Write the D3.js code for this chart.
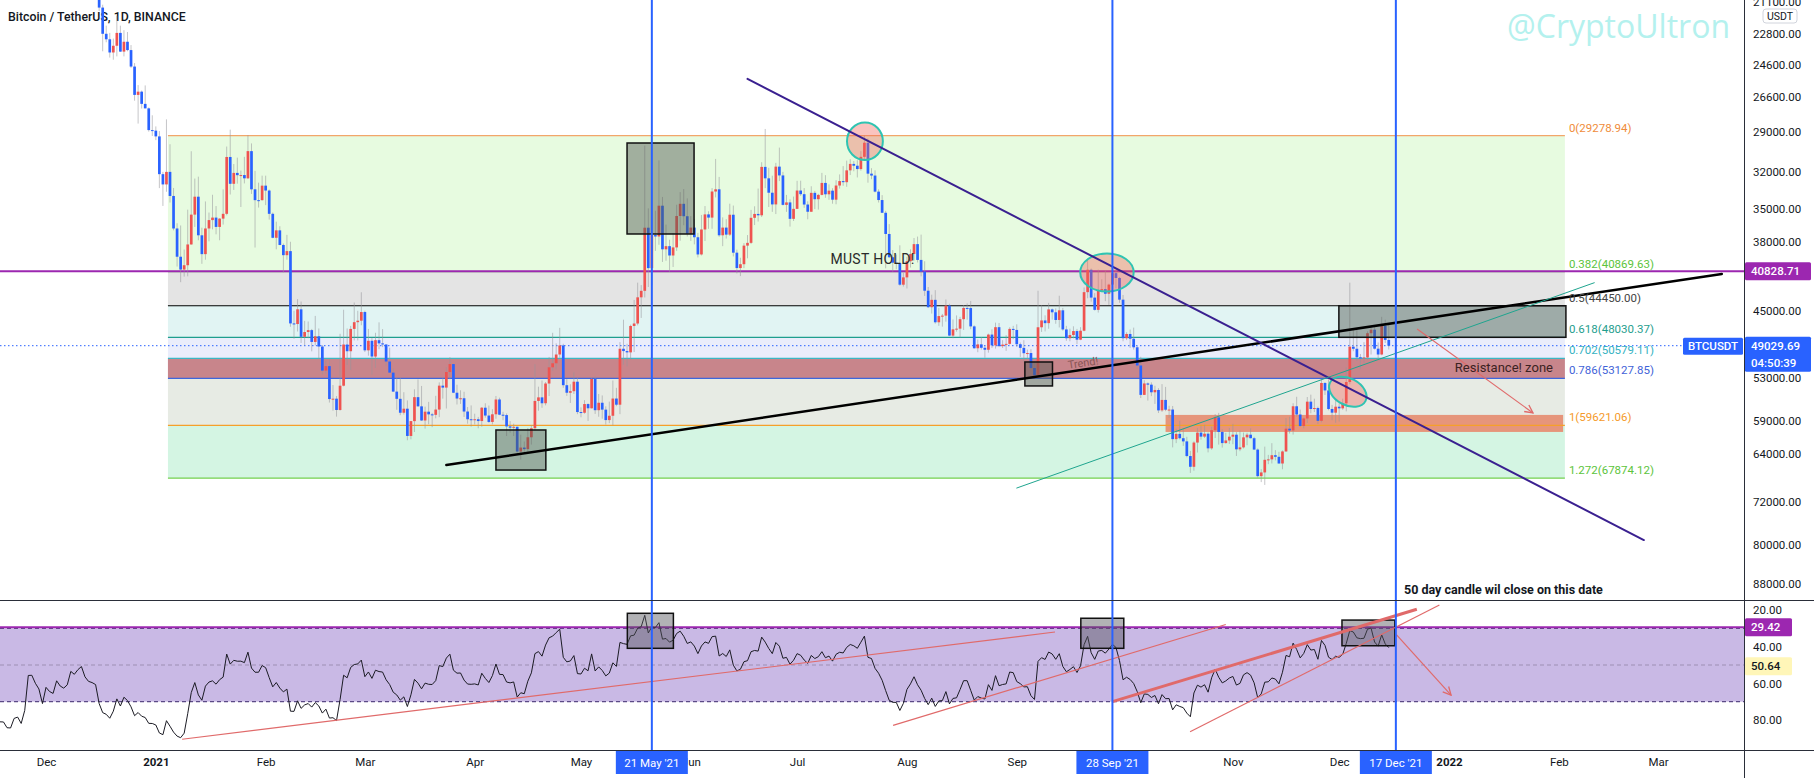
<!DOCTYPE html>
<html><head><meta charset="utf-8">
<script src="https://cdn.jsdelivr.net/npm/d3@7/dist/d3.min.js"></script>
<style>html,body{margin:0;padding:0;background:#fff;overflow:hidden}svg{display:block}</style>
</head><body>
<svg id="chart" width="1814" height="778"></svg>
<script>
// ================= DATA =================
const candleStart = '2020-11-01';
// October 2020 daily closes (only used to warm up the RSI)
const warmupCloses = [10620,10570,10550,10670,10790,10600,10670,10920,11060,11300,11380,11540,11430,11430,11500,11320,11360,11500,11750,11920,12820,12990,12930,13130,13030,13070,13640,13280,13460,13560,13800];

const closes = [
13760,13550,14020,14150,15590,15580,14830,15480,15330,15300,15700,16280,16320,16070,15960,16720,17660,17800,17820,18660,18700,18410,18370,19150,18720,17150,17140,17720,18180,19700,
18770,19210,19420,18650,19150,19360,19170,18320,18550,18250,18040,18800,19170,19270,19430,21380,22800,23110,23870,23480,22750,23820,23250,23730,24710,26490,26280,27080,27380,28880,28920,
29330,32180,33000,32000,33950,36770,39410,40670,40240,38240,35540,34010,37390,39160,36770,36020,35800,36630,35890,35470,30850,32950,32080,32260,32250,32510,30410,33400,34300,34300,33100,
33500,35470,37620,36940,38290,39260,38870,46420,46490,44840,47970,47410,47190,48580,47910,49130,52120,51550,55890,55840,57410,54090,48890,49700,47050,46280,46110,45140,
49590,48440,50350,48370,48750,48880,50970,52380,54880,55860,57800,57230,61190,59000,55630,56900,58910,57650,58030,58100,57350,54080,54340,52300,51290,55030,55820,55780,57630,58730,58800,
58730,58990,57090,58200,59120,58020,55950,58080,58130,59770,59960,59830,63580,62960,63200,61390,60040,56150,55660,56470,53800,51700,51190,50100,49000,54020,55030,54820,53560,57700,
57800,56580,57170,53200,57440,56400,57360,58850,58230,55820,56670,49400,49680,49840,46710,46430,43540,42850,36700,40530,37370,37500,34770,38700,38400,39290,38520,35660,34610,35680,37250,
36690,37570,39190,36860,35520,35800,33580,33400,37390,36690,37330,35550,39020,40520,40140,38350,38090,35820,35480,35600,31610,32510,33680,34660,31590,32280,34700,34490,35910,35040,
33500,33800,34670,35290,33690,34220,33860,32880,33810,33510,34260,33090,32730,32820,31880,31380,31520,31780,30840,29790,32140,32290,33590,34290,35380,37270,39460,39990,40020,42210,41460,
39850,39150,38210,39720,40870,42840,44610,43810,46290,45590,45540,44430,47830,47100,47020,45940,44690,44700,46760,49340,48870,49280,49520,47710,48990,46850,49080,48900,48810,47050,47170,
48850,49290,49940,49920,51790,52700,46860,46080,46390,44850,45170,46030,44950,47110,48140,47760,47300,48310,47260,42990,40690,43570,44900,42810,42670,43160,42200,41030,41520,43790,
48140,47640,48200,49220,51470,55320,53790,53950,54970,54660,57470,56010,57370,57350,61670,60880,61530,62010,64280,66000,62190,60690,61290,60850,63080,60330,58460,60590,62270,61870,61300,
61000,63230,62930,61400,61000,61530,63270,67530,66920,64880,64810,64150,64400,65470,63560,60110,60370,56890,58050,59710,58620,56250,57270,57130,58960,53730,54720,57270,57790,56950,
57180,56480,53600,49150,49400,50440,50580,50470,47550,47140,49390,50100,46700,48340,49029.69];

const highs = [
13900,13830,14070,14250,15770,15970,15770,15650,15850,15480,15960,16350,16480,16330,16140,16880,17860,18480,18180,18800,18970,18750,18770,19420,19490,18910,17460,17880,18340,19860,
19890,19310,19530,19500,19170,19420,19400,19280,18640,18560,18290,18950,19410,19350,19570,21560,23800,23280,24170,24300,24100,23840,24100,23800,24790,26870,28420,27390,27380,28990,29300,
29600,33300,34790,33600,34500,36940,40370,41950,41380,41350,38260,36630,37850,40100,39700,37950,36850,37300,37850,36420,35600,33830,33450,32940,34880,32920,32560,33780,38530,34930,34340,
34720,35980,37660,38700,38310,40950,39700,46800,48200,47350,48700,48980,48150,49710,49000,50650,52620,52530,56370,57500,58350,57500,54180,51400,52050,48400,48400,46630,
49800,50250,52640,51770,49450,49200,51450,52400,54900,57390,58150,58060,61840,61700,60600,56940,58980,60100,59450,59880,58600,58430,55830,57200,53230,55080,56640,56560,58400,59370,59800,
59490,60050,59800,58500,59250,59480,58650,58150,58870,61200,60700,61200,63770,64850,63800,63600,62500,60400,57520,57100,56760,55480,52130,51950,50500,54360,55460,56430,55200,58000,
58450,57950,58970,57200,57970,58370,58650,59500,59300,59590,56880,58000,51360,51580,50700,49800,46640,45800,43550,42450,42200,38850,38270,39920,39800,40900,40410,38850,37890,36480,37500,
37900,38230,39480,39290,37920,36800,36800,34070,37530,38400,37690,37450,39380,41060,41330,40530,39560,38200,36460,36150,35750,33300,34880,35300,35490,32730,34750,35300,36600,36100,
35040,33940,34950,35950,35290,35060,35100,33900,34100,34270,34600,34650,33340,33110,33190,32250,31950,32440,31900,31040,32860,32580,33650,34500,35400,40550,39540,40900,40640,42320,42410,
42600,40470,39780,39970,41350,43390,44700,45310,46450,46700,46790,46220,47890,48140,47370,48050,47170,46000,47080,49380,49820,49500,50500,49870,49300,49380,49200,49310,49650,48900,48250,
49150,50400,51050,50560,51900,52780,52920,47400,47340,47030,45990,46460,46880,47260,48450,48500,48160,48830,48370,47330,43640,44000,44980,45200,42970,43950,44350,42790,42600,44130,
48500,48360,49300,49500,51890,55750,55330,56100,55490,56560,57840,57680,57580,58530,62930,62280,61720,62700,64490,67000,66640,63730,61750,61500,63710,63290,61500,62500,62960,62350,62400,
62440,64270,63520,63100,62600,61560,63290,67790,68530,69000,65580,65460,64970,65490,66400,63620,60830,60980,58370,59840,60050,59270,57880,57700,59400,59180,55330,57450,58870,59250,
59060,57380,57600,53900,49700,50900,51940,51200,50800,50100,49500,50800,50200,48700,49490];

const lows = [
13620,13220,13300,13530,14100,15200,14340,14720,14800,15080,15280,15440,15950,15720,15790,15870,16560,17220,17330,17760,18020,17610,18000,18030,18570,16330,16440,16870,17520,18180,
18320,18500,18920,18570,18500,18860,18900,18200,17650,17910,17570,18020,18710,19000,19050,19300,21230,22350,22750,23070,21820,22350,22600,22700,23440,24500,25860,26210,25880,27320,27850,
28620,28950,32000,28130,29900,33290,36300,36500,38720,35110,30420,32530,32380,36700,34410,35360,33850,34800,35850,33400,30070,28850,31390,30900,31900,30840,29240,29840,31920,32860,32300,
32300,33420,35360,36160,36570,38150,37350,37990,45000,43730,43990,46130,46200,47050,45570,47000,48950,50900,50700,54000,55480,47620,44890,47000,46700,44100,45000,43000,
45000,47050,48100,47500,46300,47070,48880,49270,51850,53000,53020,54960,56080,59000,54570,53270,54120,56940,56280,57820,55450,53650,53000,51700,50430,51280,53960,54700,54900,57000,56770,
57940,58400,57000,56470,56790,57300,55470,55700,57670,57900,59000,59370,59800,61000,62020,60000,59580,51300,54220,53400,53600,50400,47500,48750,46930,48800,53220,53900,52330,53010,
57050,56040,56480,53050,52900,55200,55400,56900,56240,53400,54370,48600,46000,48800,46560,43820,42000,42250,30000,35000,33500,35200,31110,34030,36420,37800,37170,34690,33630,33380,34150,
35670,35930,37170,35570,34800,35250,33300,31000,32400,35780,35940,34600,34760,38730,39510,38120,37370,35130,34820,33340,31250,28800,31680,32300,31300,30150,32000,33860,34230,34000,
32710,32700,33300,34400,33150,33530,33770,32080,32260,33000,33310,32660,32200,31550,31130,31020,31160,31100,30410,29280,29480,31710,31880,33400,33880,35210,36380,38770,39200,38320,41000,
39420,38700,37640,37510,37330,39850,42450,43260,42780,44680,45350,43770,44240,45970,45520,45680,44380,44200,43930,46640,48290,48000,49030,47600,47100,46330,46370,48370,47780,46860,46700,
46520,48650,48370,49500,49450,50950,42840,44410,45510,44140,44750,44740,43370,44690,46700,47020,46750,47050,46850,42500,39600,40570,43100,40680,41650,40750,42100,40930,40750,41410,
43290,47430,47120,46900,49060,50380,53360,53660,53650,54100,54420,53880,54250,56820,56850,60120,58960,60100,61320,63480,62000,60000,59670,59530,60650,59820,58000,57820,60170,60720,60000,
59400,60620,60380,60680,60720,60050,61320,63100,66380,62820,64100,62280,63360,63620,63400,58570,58370,56470,55580,57350,58470,55610,55290,55840,56940,53280,53610,53250,56700,55880,
56460,55840,51680,42000,47100,47100,50040,48600,47330,46850,46630,48640,45670,46000,46550];

const priceTicks = [21100,22800,24600,26600,29000,32000,35000,38000,45000,53000,59000,64000,72000,80000,88000];
const rsiTicks = [20,40,60,80];
// month labels visible on the time axis ("Oct" is hidden under the 28 Sep tag in the reference)
const timeTicks = [['2020-12-01','Dec'],['2021-01-01','2021'],['2021-02-01','Feb'],['2021-03-01','Mar'],['2021-04-01','Apr'],['2021-05-01','May'],['2021-06-01','Jun'],['2021-07-01','Jul'],['2021-08-01','Aug'],['2021-09-01','Sep'],['2021-11-01','Nov'],['2021-12-01','Dec'],['2022-01-01','2022'],['2022-02-01','Feb'],['2022-03-01','Mar']];
const markerDates = [['2021-05-21',"21 May '21"],['2021-09-28',"28 Sep '21"],['2021-12-17',"17 Dec '21"]];

const fibRatios = ['0','0.382','0.5','0.618','0.702','0.786','1','1.272'];
const fibPrices = [29278.94,40869.63,44450.00,48030.37,50579.11,53127.85,59621.06,67874.12];
const fibSpan = ['2021-01-04T10:00','2022-02-02T17:00'];
const holdLevel = 40828.71;
const lastPrice = 49029.69;
const countdown = '04:50:39';
const rsiHold = 29.42;
const rsiLast = 50.64;
const rsiBands = [30,50,70];

const orangeZone = ['2021-10-13','2022-02-02T05:00',58110,60590];
const priceBoxes = [
  ['2021-05-14','2021-06-01T22:00',29810,37270],
  ['2021-04-07','2021-04-21T02:00',60300,66530],
  ['2021-09-03T07:00','2021-09-11T02:00',51030,54120],
  ['2021-11-30T22:00','2022-02-03',44450,48030.37]];
const ellipses = [
  ['2021-07-15T02:00','2021-07-25T05:00',28350,31080],
  ['2021-09-18T22:00','2021-10-04',39090,42930],
  ['2021-11-27T19:00','2021-12-09T02:00',53130,56720]];
const trendLines = [
  ['2021-03-24',65720,'2022-03-19',41110],
  ['2021-06-17',25470,'2022-02-25',79000],
  ['2021-09-01',69530,'2022-02-11',42010]];
const priceArrow = ['2021-12-23',47060,'2022-01-24T17:00',57830];
const notes = [
  ['MUST HOLD!','2021-07-22T07:00',39630],
  ['Resistance! zone','2022-01-16T12:00',51750],
  ['Trend!','2021-09-19T17:00',51130]];
const dateNote = ['50 day candle wil close on this date','2021-12-19T07:00',89150];

const rsiBoxes = [
  ['2021-05-14T02:00','2021-05-27T02:00',21.8,40.9],
  ['2021-09-19T02:00','2021-10-01T05:00',24.5,40.9],
  ['2021-12-01T19:00','2021-12-16T17:00',25.5,39.5]];
const rsiLines = [
  ['2021-01-08T10:00',90.5,'2021-09-11T19:00',32],
  ['2021-07-28T02:00',82.9,'2021-10-30',27.9],
  ['2021-09-28',70,'2021-12-22T22:00',19.6],
  ['2021-10-19T22:00',86.4,'2021-12-29T07:00',17.3]];
const rsiArrow = ['2021-12-17T05:00',33.6,'2022-01-01T14:00',66.4];

// ================= STYLE / LAYOUT =================
const W = 1814, H = 778, PLOT_R = 1744, MAIN_B = 600, RSI_B = 750;
const FONT = "Roboto, 'Open Sans', 'DejaVu Sans', sans-serif";
const DAY = 864e5;
const UP = '#2962ff', DOWN = '#ef5350';
const fibFill = ['#e7fbe0','#e4e4e4','#e1f4f3','#eaedfb','#e8ebf6','#e7ebe4','#d4f5e3'];
const fibLine = ['#f2a66a','#7bc96f','#000000','#1f9e8e','#3bb7c4','#3d66dd','#f5a02a','#74d04f'];
const fibText = ['#f08c3a','#5cc43c','#444444','#1f9e8e','#35b2c2','#3f63d8','#f59a2a','#5cc43c'];
const lineStyle = [{c:'#000',w:2.5},{c:'#3a2090',w:2},{c:'#1fa58f',w:1}];
const ellipseTilt = [0,0,28];
const RED = '#e06a6a';

const T = s => new Date(s.length === 10 ? s + 'T00:00:00Z' : s + ':00Z');
const x = d3.scaleUtc().domain([T('2020-12-01'), T('2022-01-01')]).range([46, 1449]);
const y = d3.scaleLog().domain([20985, 91530]).range([0, MAIN_B]);
const yR = d3.scaleLinear().domain([20, 80]).range([610, 720]);

const svg = d3.select('#chart').attr('font-family', FONT);
const defs = svg.append('defs');
defs.append('clipPath').attr('id','clipMain').append('rect').attr('x',0).attr('y',0).attr('width',PLOT_R).attr('height',MAIN_B);
defs.append('clipPath').attr('id','clipRsi').append('rect').attr('x',0).attr('y',MAIN_B).attr('width',PLOT_R).attr('height',RSI_B-MAIN_B);
const mk = defs.append('marker').attr('id','arr').attr('viewBox','0 0 10 10').attr('refX',9).attr('refY',5)
  .attr('markerWidth',10).attr('markerHeight',10).attr('markerUnits','userSpaceOnUse').attr('orient','auto');
mk.append('path').attr('d','M1,1 L9,5 L1,9').attr('fill','none').attr('stroke',RED).attr('stroke-width',1.3);

svg.append('rect').attr('width',W).attr('height',H).attr('fill','#fff');

// ---------- candles ----------
const t0 = T(candleStart).getTime();
const candles = closes.map((c,i) => {
  const o = i === 0 ? warmupCloses[warmupCloses.length-1] : closes[i-1];
  return {date:new Date(t0 + i*DAY), o, c, h:Math.max(highs[i],o,c), l:Math.min(lows[i],o,c)};
});

// ---------- RSI (14, Wilder) from closes ----------
function rsiSeries(v, n) {
  const out = new Array(v.length).fill(null);
  let ag = 0, al = 0;
  for (let i = 1; i <= n; i++) { const d = v[i]-v[i-1]; if (d > 0) ag += d; else al -= d; }
  ag /= n; al /= n;
  out[n] = al === 0 ? 100 : 100 - 100/(1+ag/al);
  for (let i = n+1; i < v.length; i++) {
    const d = v[i]-v[i-1];
    ag = (ag*(n-1) + Math.max(d,0))/n; al = (al*(n-1) + Math.max(-d,0))/n;
    out[i] = al === 0 ? 100 : 100 - 100/(1+ag/al);
  }
  return out;
}
const allC = warmupCloses.concat(closes);
const rsiAll = rsiSeries(allC, 14);
const rsiPts = closes.map((c,i) => ({date:new Date(t0 + i*DAY), v:rsiAll[i + warmupCloses.length]}));

// ---------- title + watermark ----------
svg.append('text').attr('x',8).attr('y',17).attr('dy','0.35em').attr('font-size',12.3).attr('font-weight',500)
  .attr('fill','#131722').text('Bitcoin / TetherUS, 1D, BINANCE');
svg.append('text').attr('x',1730).attr('y',27).attr('dy','0.35em').attr('text-anchor','end')
  .attr('font-family',"'Open Sans', sans-serif").attr('font-size',32).attr('fill','#b4f1ee').text('@CryptoUltron');

// ---------- main pane ----------
const gM = svg.append('g').attr('clip-path','url(#clipMain)');
const fx0 = x(T(fibSpan[0])), fx1 = x(T(fibSpan[1]));
fibPrices.slice(0,-1).forEach((p,i) => {
  gM.append('rect').attr('x',fx0).attr('width',fx1-fx0).attr('y',y(p)).attr('height',y(fibPrices[i+1])-y(p)).attr('fill',fibFill[i]);
});
// red resistance band (0.702 - 0.786)
gM.append('rect').attr('x',fx0).attr('width',fx1-fx0).attr('y',y(fibPrices[4])).attr('height',y(fibPrices[5])-y(fibPrices[4])).attr('fill','#c8858b');
// orange zone
gM.append('rect').attr('x',x(T(orangeZone[0]))).attr('width',x(T(orangeZone[1]))-x(T(orangeZone[0])))
  .attr('y',y(orangeZone[2])).attr('height',y(orangeZone[3])-y(orangeZone[2])).attr('fill','#e6957b');
fibPrices.forEach((p,i) => {
  gM.append('line').attr('x1',fx0).attr('x2',fx1).attr('y1',y(p)).attr('y2',y(p)).attr('stroke',fibLine[i]).attr('stroke-width',1.2);
});
// purple hold line
gM.append('line').attr('x1',0).attr('x2',PLOT_R).attr('y1',y(holdLevel)).attr('y2',y(holdLevel)).attr('stroke','#9c27b0').attr('stroke-width',2);
// last price dotted line
gM.append('line').attr('x1',0).attr('x2',PLOT_R).attr('y1',y(lastPrice)).attr('y2',y(lastPrice)).attr('stroke',UP).attr('stroke-width',1).attr('stroke-dasharray','1.5,2.5');

// candles
const gc = gM.append('g');
gc.selectAll('line.w').data(candles).join('line').attr('class','w')
  .attr('x1',d=>x(d.date)).attr('x2',d=>x(d.date)).attr('y1',d=>y(d.h)).attr('y2',d=>y(d.l))
  .attr('stroke','rgba(150,150,155,0.55)').attr('stroke-width',1);
gc.selectAll('rect.b').data(candles).join('rect').attr('class','b')
  .attr('x',d=>x(d.date)-1.35).attr('width',2.7)
  .attr('y',d=>Math.min(y(d.o),y(d.c))).attr('height',d=>Math.max(1,Math.abs(y(d.o)-y(d.c))))
  .attr('fill',d=>d.c>=d.o?UP:DOWN);

// gray boxes
priceBoxes.forEach(b => {
  gM.append('rect').attr('x',x(T(b[0]))).attr('width',x(T(b[1]))-x(T(b[0])))
    .attr('y',y(b[2])).attr('height',y(b[3])-y(b[2]))
    .attr('fill','rgba(85,92,85,0.48)').attr('stroke','#111').attr('stroke-width',1.5);
});
// ellipses
ellipses.forEach((e,i) => {
  const cx = (x(T(e[0]))+x(T(e[1])))/2, cy = (y(e[2])+y(e[3]))/2;
  const rx = (x(T(e[1]))-x(T(e[0])))/2, ry = (y(e[3])-y(e[2]))/2;
  gM.append('ellipse').attr('cx',cx).attr('cy',cy).attr('rx',rx).attr('ry',ry)
    .attr('transform',`rotate(${ellipseTilt[i]},${cx},${cy})`)
    .attr('fill','rgba(242,96,86,0.38)').attr('stroke','#2fc4b2').attr('stroke-width',2);
});
// trend lines
trendLines.forEach((l,i) => {
  gM.append('line').attr('x1',x(T(l[0]))).attr('y1',y(l[1])).attr('x2',x(T(l[2]))).attr('y2',y(l[3]))
    .attr('stroke',lineStyle[i].c).attr('stroke-width',lineStyle[i].w).attr('stroke-linecap','round');
});
gM.append('line').attr('x1',x(T(priceArrow[0]))).attr('y1',y(priceArrow[1])).attr('x2',x(T(priceArrow[2]))).attr('y2',y(priceArrow[3]))
  .attr('stroke',RED).attr('stroke-width',1.2).attr('marker-end','url(#arr)');
// notes
const noteStyle = [{s:14,c:'#2a2a2a',r:0},{s:13,c:'#3b2222',r:0},{s:11,c:'#8a5656',r:-8.5}];
notes.forEach((n,i) => {
  const nx = x(T(n[1])), ny = y(n[2]);
  gM.append('text').attr('x',nx).attr('y',ny).attr('dy','0.35em').attr('text-anchor','middle')
    .attr('transform',`rotate(${noteStyle[i].r},${nx},${ny})`)
    .attr('font-size',noteStyle[i].s).attr('fill',noteStyle[i].c).attr('letter-spacing',i===0?0.3:0).text(n[0]);
});
// fib labels
fibPrices.forEach((p,i) => {
  gM.append('text').attr('x',fx1+4).attr('y',y(p)-4).attr('font-size',11.5).attr('fill',fibText[i])
    .text(`${fibRatios[i]}(${p.toFixed(2)})`);
});
gM.append('text').attr('x',x(T(dateNote[1]))).attr('y',y(dateNote[2])).attr('dy','0.35em')
  .attr('font-size',12.5).attr('font-weight',700).attr('fill','#131722').text(dateNote[0]);

// ---------- RSI pane ----------
const gR = svg.append('g').attr('clip-path','url(#clipRsi)');
gR.append('rect').attr('x',0).attr('width',PLOT_R).attr('y',yR(rsiBands[0])).attr('height',yR(rsiBands[2])-yR(rsiBands[0]))
  .attr('fill','rgba(126,87,194,0.42)');
rsiBands.forEach((b,i) => {
  gR.append('line').attr('x1',0).attr('x2',PLOT_R).attr('y1',yR(b)).attr('y2',yR(b))
    .attr('stroke',i===1?'rgba(120,110,140,0.55)':'#5b4a86').attr('stroke-width',i===1?1:1.3).attr('stroke-dasharray','4,3');
});
gR.append('line').attr('x1',0).attr('x2',PLOT_R).attr('y1',yR(rsiHold)).attr('y2',yR(rsiHold)).attr('stroke','#9c27b0').attr('stroke-width',2);
gR.append('path').datum(rsiPts.filter(d=>d.v!=null))
  .attr('d',d3.line().x(d=>x(d.date)).y(d=>yR(d.v)))
  .attr('fill','none').attr('stroke','#1b1b24').attr('stroke-width',1);
rsiBoxes.forEach(b => {
  gR.append('rect').attr('x',x(T(b[0]))).attr('width',x(T(b[1]))-x(T(b[0])))
    .attr('y',yR(b[2])).attr('height',yR(b[3])-yR(b[2]))
    .attr('fill','rgba(85,85,90,0.45)').attr('stroke','#111').attr('stroke-width',1.5);
});
rsiLines.forEach((l,i) => {
  gR.append('line').attr('x1',x(T(l[0]))).attr('y1',yR(l[1])).attr('x2',x(T(l[2]))).attr('y2',yR(l[3]))
    .attr('stroke',RED).attr('stroke-width',i===2?3:1.2);
});
gR.append('line').attr('x1',x(T(rsiArrow[0]))).attr('y1',yR(rsiArrow[1])).attr('x2',x(T(rsiArrow[2]))).attr('y2',yR(rsiArrow[3]))
  .attr('stroke',RED).attr('stroke-width',1.2).attr('marker-end','url(#arr)');

// ---------- vertical date markers ----------
markerDates.forEach(m => {
  const mx = x(T(m[0]));
  svg.append('line').attr('x1',mx).attr('x2',mx).attr('y1',0).attr('y2',RSI_B).attr('stroke',UP).attr('stroke-width',2);
});

// ---------- frame ----------
svg.append('line').attr('x1',0).attr('x2',W).attr('y1',MAIN_B+0.5).attr('y2',MAIN_B+0.5).attr('stroke','#2a2e39');
svg.append('line').attr('x1',0).attr('x2',W).attr('y1',RSI_B+0.5).attr('y2',RSI_B+0.5).attr('stroke','#2a2e39');
svg.append('line').attr('x1',PLOT_R+0.5).attr('x2',PLOT_R+0.5).attr('y1',0).attr('y2',H).attr('stroke','#2a2e39');

// ---------- axes ----------
const styleAxis = g => { g.select('.domain').remove(); g.selectAll('text').attr('font-family',FONT).attr('font-size',11.5).attr('fill','#131722'); };
svg.append('g').attr('transform',`translate(${PLOT_R},0)`)
  .call(d3.axisRight(y).tickValues(priceTicks).tickFormat(d3.format('.2f')).tickSize(0).tickPadding(9)).call(styleAxis);
svg.append('g').attr('transform',`translate(${PLOT_R},0)`)
  .call(d3.axisRight(yR).tickValues(rsiTicks).tickFormat(d3.format('.2f')).tickSize(0).tickPadding(9)).call(styleAxis);
const tickMap = new Map(timeTicks.map(t => [T(t[0]).getTime(), t[1]]));
const gx = svg.append('g').attr('transform',`translate(0,${RSI_B})`)
  .call(d3.axisBottom(x).tickValues(timeTicks.map(t=>T(t[0]))).tickFormat(d=>tickMap.get(d.getTime())).tickSize(0).tickPadding(8)).call(styleAxis);
gx.selectAll('text').attr('font-weight',d => /^\d{4}$/.test(tickMap.get(d.getTime())) ? 700 : 400);

// USDT unit label
svg.append('rect').attr('x',1763).attr('y',9).attr('width',34).attr('height',14).attr('rx',3).attr('fill','#fff').attr('stroke','#d1d4dc');
svg.append('text').attr('x',1780).attr('y',16).attr('dy','0.35em').attr('text-anchor','middle').attr('font-size',10.5).attr('fill','#131722').text('USDT');

// price tags
function tag(yc, h, bg, fg, lines, x0, w) {
  svg.append('rect').attr('x',x0).attr('y',yc - h/2).attr('width',w).attr('height',h).attr('rx',1.5).attr('fill',bg);
  lines.forEach((t,i) => svg.append('text').attr('x',x0+6).attr('y',yc - h/2 + 9 + i*17).attr('dy','0.35em')
    .attr('font-size',11.5).attr('font-weight',500).attr('fill',fg).text(t));
}
tag(y(holdLevel), 18, '#9c27b0', '#fff', [holdLevel.toFixed(2)], PLOT_R+1, 66);
tag(y(lastPrice)+8.5, 35, '#2962ff', '#fff', [lastPrice.toFixed(2), countdown], PLOT_R+1, 66);
svg.append('rect').attr('x',1683).attr('y',y(lastPrice)-8).attr('width',60).attr('height',17).attr('rx',1.5).attr('fill','#2962ff');
svg.append('text').attr('x',1713).attr('y',y(lastPrice)+0.5).attr('dy','0.35em').attr('text-anchor','middle')
  .attr('font-size',11.5).attr('font-weight',500).attr('fill','#fff').text('BTCUSDT');
tag(yR(rsiHold), 18, '#9c27b0', '#fff', [rsiHold.toFixed(2)], PLOT_R+1, 47);
tag(yR(rsiLast), 18, '#fff6b8', '#131722', [rsiLast.toFixed(2)], PLOT_R+1, 47);

// date tags on time axis
markerDates.forEach(m => {
  const mx = x(T(m[0]));
  svg.append('rect').attr('x',mx-36).attr('y',RSI_B+1).attr('width',72).attr('height',23).attr('fill','#2962ff');
  svg.append('text').attr('x',mx).attr('y',RSI_B+13).attr('dy','0.35em').attr('text-anchor','middle')
    .attr('font-size',11.5).attr('fill','#fff').text(m[1]);
});
</script>
</body></html>
